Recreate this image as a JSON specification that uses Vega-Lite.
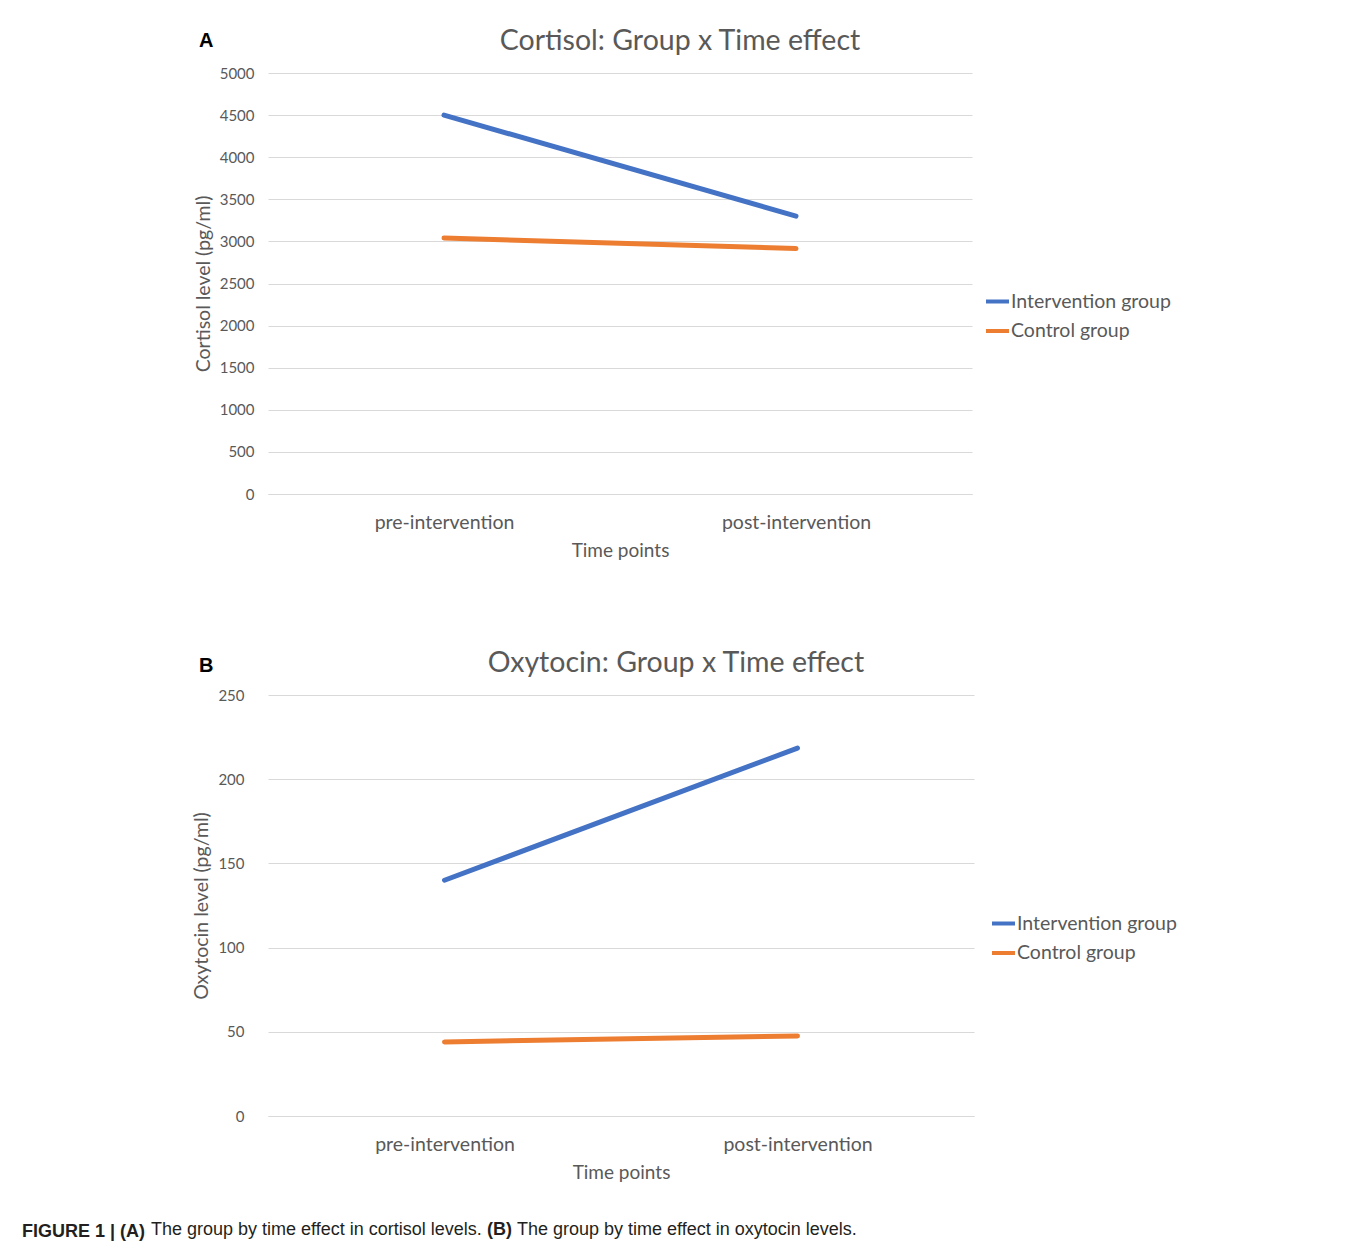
{
  "$schema": "https://vega.github.io/schema/vega-lite/v6.json",
  "padding": {"left": 22, "top": 26, "right": 10, "bottom": 8},
  "background": "white",
  "datasets": {
    "cortisol": [
      {"group": "Intervention group", "time": "pre-intervention", "level": 4500},
      {"group": "Intervention group", "time": "post-intervention", "level": 3300},
      {"group": "Control group", "time": "pre-intervention", "level": 3040},
      {"group": "Control group", "time": "post-intervention", "level": 2915}
    ],
    "oxytocin": [
      {"group": "Intervention group", "time": "pre-intervention", "level": 140},
      {"group": "Intervention group", "time": "post-intervention", "level": 218.5},
      {"group": "Control group", "time": "pre-intervention", "level": 44},
      {"group": "Control group", "time": "post-intervention", "level": 47.5}
    ]
  },
  "title": {
    "text": "The group by time effect in oxytocin levels.",
    "orient": "bottom", "anchor": "start", "frame": "group",
    "dx": 249, "dy": -20, "offset": 0,
    "font": "Liberation Sans", "fontSize": 18, "fontWeight": "normal", "color": "#231f20"
  },
  "resolve": {"legend": {"color": "independent"}, "scale": {"y": "independent", "x": "independent"}},
  "vconcat": [
    {
      "title": {
        "text": "(B)",
        "orient": "bottom", "anchor": "start", "frame": "group",
        "dx": 219, "dy": -20, "offset": 0,
        "font": "Liberation Sans", "fontSize": 18, "fontWeight": "bold", "color": "#231f20"
      },
      "resolve": {"legend": {"color": "independent"}, "scale": {"y": "independent", "x": "independent"}},
      "vconcat": [
        {
          "title": {
            "text": "The group by time effect in cortisol levels.",
            "orient": "bottom", "anchor": "start", "frame": "group",
            "dx": -117, "dy": -20, "offset": 0,
            "font": "Liberation Sans", "fontSize": 18, "fontWeight": "normal", "color": "#231f20"
          },
          "resolve": {"legend": {"color": "independent"}, "scale": {"y": "independent", "x": "independent"}},
          "vconcat": [
            {
              "title": {
                "text": "FIGURE 1 | (A)",
                "orient": "bottom", "anchor": "start", "frame": "group",
                "dx": -246, "offset": 40,
                "font": "Liberation Sans", "fontSize": 18, "fontWeight": "bold", "color": "#231f20"
              },
              "spacing": 87,
              "resolve": {"legend": {"color": "independent"}, "scale": {"y": "independent", "x": "independent"}},
              "vconcat": [
                {
                  "title": {"text": "A", "anchor": "start", "frame": "group", "font": "Liberation Sans", "fontSize": 20, "fontWeight": "bold", "color": "#000000", "offset": 0, "dy": 24, "dx": -69},
                  "resolve": {"legend": {"color": "independent"}},
                  "vconcat": [
                    {
                      "data": {"name": "cortisol"},
                      "width": 704,
                      "height": 421,
                      "title": {"text": "Cortisol: Group x Time effect", "dx": 60},
                      "mark": {"type": "line", "strokeWidth": 5, "strokeCap": "round"},
                      "encoding": {
                        "x": {
                          "field": "time", "type": "nominal",
                          "sort": ["pre-intervention", "post-intervention"],
                          "scale": {"type": "point", "padding": 0.5},
                          "axis": {"title": "Time points", "labelAngle": 0}
                        },
                        "y": {
                          "field": "level", "type": "quantitative",
                          "scale": {"domain": [0, 5000]},
                          "axis": {"title": "Cortisol level (pg/ml)", "format": "d", "values": [0, 500, 1000, 1500, 2000, 2500, 3000, 3500, 4000, 4500, 5000]}
                        },
                        "color": {
                          "field": "group", "type": "nominal",
                          "scale": {"domain": ["Intervention group", "Control group"], "range": ["#4472C4", "#ED7D31"]},
                          "legend": {"title": null, "orient": "none", "legendX": 716, "legendY": 215}
                        }
                      }
                    }
                  ]
                },
                {
                  "title": {"text": "B", "anchor": "start", "frame": "group", "font": "Liberation Sans", "fontSize": 20, "fontWeight": "bold", "color": "#000000", "offset": 0, "dy": 27, "dx": -69},
                  "resolve": {"legend": {"color": "independent"}},
                  "vconcat": [
                    {
                      "data": {"name": "oxytocin"},
                      "width": 706,
                      "height": 421,
                      "title": {"text": "Oxytocin: Group x Time effect", "dx": 55},
                      "mark": {"type": "line", "strokeWidth": 5, "strokeCap": "round"},
                      "encoding": {
                        "x": {
                          "field": "time", "type": "nominal",
                          "sort": ["pre-intervention", "post-intervention"],
                          "scale": {"type": "point", "padding": 0.5},
                          "axis": {"title": "Time points", "labelAngle": 0}
                        },
                        "y": {
                          "field": "level", "type": "quantitative",
                          "scale": {"domain": [0, 250]},
                          "axis": {"title": "Oxytocin level (pg/ml)", "format": "d", "labelPadding": 24, "values": [0, 50, 100, 150, 200, 250]}
                        },
                        "color": {
                          "field": "group", "type": "nominal",
                          "scale": {"domain": ["Intervention group", "Control group"], "range": ["#4472C4", "#ED7D31"]},
                          "legend": {"title": null, "orient": "none", "legendX": 722, "legendY": 215}
                        }
                      }
                    }
                  ]
                }
              ]
            }
          ]
        }
      ]
    }
  ],
  "config": {
    "view": {"stroke": null},
    "title": {"font": "Lato", "fontSize": 28.5, "fontWeight": "normal", "color": "#595959", "offset": 11},
    "axis": {
      "labelFont": "Lato", "labelColor": "#595959",
      "titleFont": "Lato", "titleColor": "#595959", "titleFontWeight": "normal", "titleFontSize": 19.5,
      "ticks": false, "domain": false, "gridColor": "#d9d9d9", "gridWidth": 1
    },
    "axisX": {"grid": false, "labelFontSize": 19.5, "labelPadding": 19, "titlePadding": 10, "titleFontSize": 19, "domain": true, "domainColor": "#d9d9d9"},
    "axisY": {"labelFontSize": 15, "labelPadding": 14, "titlePadding": 6},
    "legend": {
      "labelFont": "Lato", "labelFontSize": 19.5, "labelColor": "#595959",
      "symbolType": "stroke", "symbolSize": 529, "symbolStrokeWidth": 4,
      "labelOffset": 0, "rowPadding": 6.5, "padding": 0
    }
  }
}
